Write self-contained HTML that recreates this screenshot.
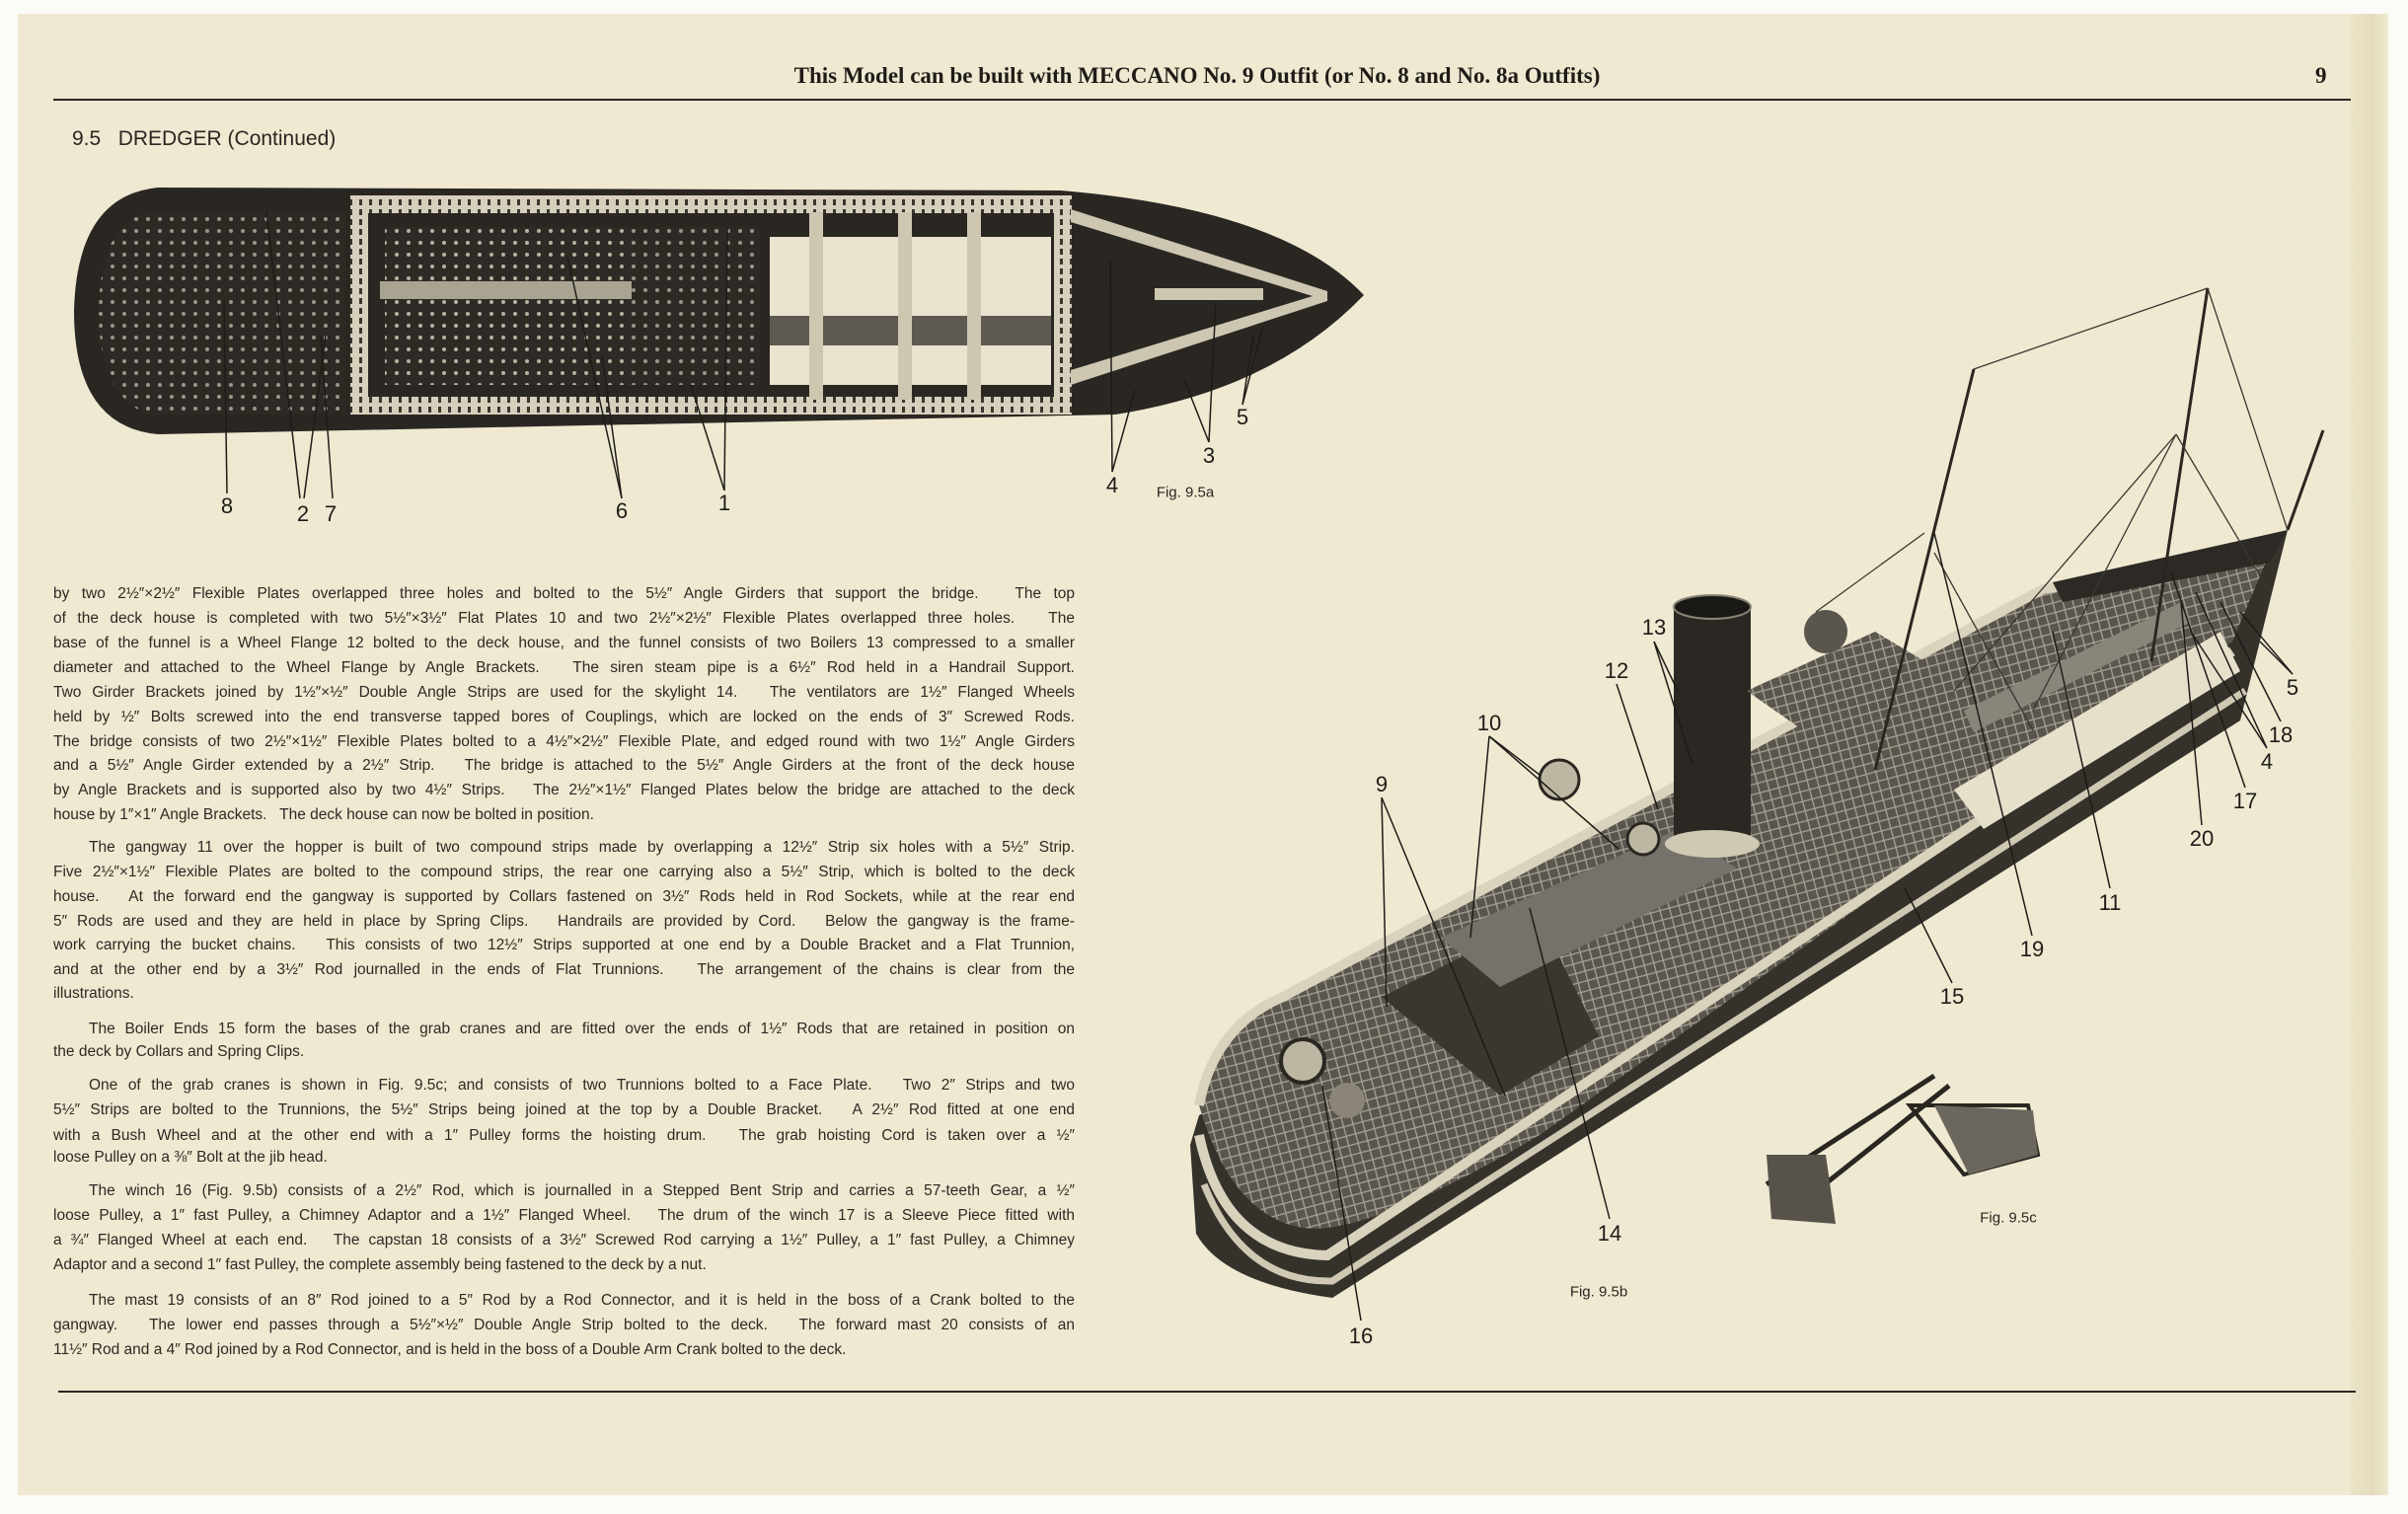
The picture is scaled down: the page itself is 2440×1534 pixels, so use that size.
<!DOCTYPE html>
<html><head><meta charset="utf-8">
<style>
html,body{margin:0;padding:0;background:#fbfbf8;}
body{width:2440px;height:1534px;position:relative;overflow:hidden;font-family:"Liberation Sans",sans-serif;}
#page{position:absolute;left:18px;top:14px;width:2402px;height:1501px;background:#efe9d2;}
.ln{position:absolute;left:54px;width:1035px;font-size:15.5px;line-height:24px;height:24px;color:#2d2922;text-align:justify;text-align-last:justify;white-space:nowrap;overflow:visible;word-spacing:0px;}
.ln.l{text-align-last:left;}
.ln.i{left:90px;width:999px;}
.lab{position:absolute;font-size:22px;color:#1e1c18;transform:translate(-50%,-50%);}
.fig{position:absolute;font-size:15px;color:#2a2620;transform:translate(-50%,-50%);}
</style></head><body>
<div id="page"></div>
<div style="position:absolute;left:2381px;top:14px;width:39px;height:1501px;background:linear-gradient(90deg,#ebe4c8,#e4dcbd 60%,#efe9cf);"></div>
<div style="position:absolute;left:713px;top:64px;width:1000px;text-align:center;font-size:23px;font-weight:bold;font-family:'Liberation Serif',serif;color:#1f1c17;">This Model can be built with MECCANO No. 9 Outfit (or No. 8 and No. 8a Outfits)</div>
<div style="position:absolute;left:2346px;top:64px;font-size:23px;font-weight:bold;font-family:'Liberation Serif',serif;color:#1f1c17;">9</div>
<div style="position:absolute;left:54px;top:100px;width:2328px;height:2px;background:#2a2722;"></div>
<div style="position:absolute;left:73px;top:129px;font-size:21px;color:#2a2620;">9.5&nbsp;&nbsp;&nbsp;DREDGER (Continued)</div>
<div style="position:absolute;left:59px;top:1409px;width:2328px;height:2px;background:#2a2722;"></div>

<svg width="2440" height="1534" style="position:absolute;left:0;top:0" xmlns="http://www.w3.org/2000/svg">
<defs>
<pattern id="hatch" width="14" height="14" patternUnits="userSpaceOnUse" patternTransform="rotate(30)">
<rect width="14" height="14" fill="#5a564e"/>
<path d="M0 0L14 14M14 0L0 14" stroke="#a9a395" stroke-width="1.3"/>
</pattern>
<pattern id="holes" width="12" height="12" patternUnits="userSpaceOnUse">
<rect width="12" height="12" fill="#2e2b27"/>
<circle cx="6" cy="6" r="2" fill="#b8b19f"/>
</pattern>
<pattern id="strip" width="10" height="10" patternUnits="userSpaceOnUse">
<rect width="10" height="10" fill="#d6cfbb"/>
<rect x="4" y="2" width="3" height="6" fill="#3a362f"/>
</pattern>
</defs>
<path d="M160 190 L1075 193 Q1300 212 1382 299 Q1290 395 1130 420 L160 440 Q75 432 75 315 Q78 198 160 190 Z" fill="#2a2723"/>
<path d="M150 215 L350 213 L350 420 L150 420 Q100 400 100 315 Q102 225 150 215Z" fill="url(#holes)" opacity="0.8"/>
<rect x="355" y="198" width="730" height="18" fill="url(#strip)"/>
<rect x="355" y="402" width="730" height="18" fill="url(#strip)"/>
<rect x="355" y="198" width="18" height="222" fill="url(#strip)"/>
<rect x="1068" y="198" width="18" height="222" fill="url(#strip)"/>
<rect x="390" y="230" width="250" height="160" fill="url(#holes)"/>
<rect x="640" y="230" width="130" height="160" fill="url(#holes)" opacity="0.8"/>
<rect x="385" y="285" width="255" height="18" fill="#a9a391"/>
<rect x="780" y="240" width="285" height="150" fill="#e9e3cf"/>
<rect x="780" y="320" width="285" height="30" fill="#5e5a51"/>
<rect x="820" y="215" width="14" height="190" fill="#cdc6b1"/>
<rect x="910" y="215" width="14" height="190" fill="#cdc6b1"/>
<rect x="980" y="215" width="14" height="190" fill="#cdc6b1"/>
<path d="M1085 225 L1330 300 L1085 375 L1085 390 L1345 305 L1345 295 L1085 212Z" fill="#cdc6b1"/>
<rect x="1170" y="292" width="110" height="12" fill="#cdc6b1"/>
<g stroke="#1e1c18" stroke-width="1.5" fill="none">
<path d="M230 500 L227 305"/><path d="M304 505 L270 215"/><path d="M308 505 L330 340"/><path d="M337 505 L325 340"/>
<path d="M630 505 L575 260"/><path d="M630 505 L610 360"/><path d="M734 497 L700 390"/><path d="M734 497 L737 230"/>
<path d="M1127 478 L1125 265"/><path d="M1127 478 L1150 395"/><path d="M1225 448 L1200 385"/><path d="M1225 448 L1232 305"/>
<path d="M1259 410 L1270 340"/><path d="M1259 410 L1280 330"/>
</g>
<path d="M1206 1160 L1212 1250 Q1240 1300 1350 1315 L2270 730 L2318 537 L2290 560 L1215 1130Z" fill="#35322c"/>
<path d="M1215 1120 Q1230 1040 1300 1010 L2070 597 L2300 560 L2262 650 L1560 1150 Q1400 1245 1330 1245 Q1250 1240 1215 1120Z" fill="url(#hatch)"/>
<path d="M1215 1120 Q1230 1040 1300 1010 L2070 597 L2300 560" fill="none" stroke="#d9d2bd" stroke-width="10"/>
<path d="M1215 1150 Q1240 1270 1345 1272 L2262 660" fill="none" stroke="#d9d2bd" stroke-width="10"/>
<path d="M1220 1200 Q1260 1300 1350 1298 L2275 700" fill="none" stroke="#cfc8b2" stroke-width="7"/>
<path d="M2080 590 L2318 537 L2300 570 L2090 610Z" fill="#2d2a25"/>
<path d="M1400 1010 L1560 930 L1620 1050 L1520 1110 Z" fill="#3a372f"/>
<path d="M1460 950 L1700 840 L1760 880 L1520 1000Z" fill="#76716a"/>
<rect x="1696" y="615" width="78" height="240" fill="#2b2824"/>
<ellipse cx="1735" cy="615" rx="39" ry="12" fill="#1a1815" stroke="#8a8474" stroke-width="2"/>
<ellipse cx="1735" cy="855" rx="48" ry="14" fill="#cfc8b2"/>
<path d="M1770 700 L1900 640 L2000 700 L1870 770Z" fill="url(#hatch)"/>
<path d="M1980 800 L2250 640 L2270 680 L2010 840Z" fill="#e6dfca"/>
<path d="M1990 720 L2210 610 L2220 630 L2000 742Z" fill="#8a857a"/>
<g stroke="#2a2722" stroke-width="3" fill="none">
<path d="M2000 374 L1900 780"/><path d="M2237 292 L2180 670"/><path d="M2354 436 L2318 537"/>
</g>
<g stroke="#3a362f" stroke-width="1.3" fill="none">
<path d="M2000 374 L2237 292"/><path d="M2237 292 L2318 537"/><path d="M1950 540 L1840 620"/>
<path d="M2205 440 L1980 700"/><path d="M2205 440 L2060 720"/><path d="M2205 440 L2300 600"/>
<path d="M1960 560 L2060 740"/>
</g>
<circle cx="1850" cy="640" r="22" fill="#5a564e"/>
<circle cx="1580" cy="790" r="20" fill="#bdb6a2" stroke="#2a2722" stroke-width="3"/>
<circle cx="1665" cy="850" r="16" fill="#bdb6a2" stroke="#2a2722" stroke-width="3"/>
<circle cx="1320" cy="1075" r="22" fill="#bdb6a2" stroke="#2a2722" stroke-width="4"/>
<circle cx="1365" cy="1115" r="18" fill="#8a8578"/>
<g stroke="#2a2722" stroke-width="5" fill="none">
<path d="M1790 1200 L1960 1090"/><path d="M1830 1215 L1975 1100"/>
<path d="M1935 1120 L2055 1120 L2065 1170 L1990 1190Z" stroke-width="4"/>
</g>
<path d="M1790 1170 L1850 1170 L1860 1240 L1795 1235Z" fill="#57534a"/>
<path d="M1960 1120 L2060 1125 L2065 1170 L1995 1190Z" fill="#6c675e"/>
<g stroke="#1e1c18" stroke-width="1.5" fill="none">
<path d="M1676 650 L1700 700"/><path d="M1676 650 L1715 775"/><path d="M1638 693 L1680 820"/>
<path d="M1509 746 L1490 950"/><path d="M1509 746 L1560 785"/><path d="M1509 746 L1640 860"/>
<path d="M1400 808 L1405 1020"/><path d="M1400 808 L1525 1110"/><path d="M1631 1235 L1550 920"/>
<path d="M1379 1338 L1340 1100"/><path d="M1978 996 L1930 900"/><path d="M2059 948 L1960 540"/>
<path d="M2138 900 L2080 640"/><path d="M2231 836 L2210 610"/><path d="M2275 798 L2200 580"/>
<path d="M2297 758 L2225 600"/><path d="M2297 758 L2220 640"/><path d="M2311 731 L2250 610"/><path d="M2323 683 L2270 620"/><path d="M2323 683 L2290 650"/>
</g>
</svg>

<div class="lab" style="left:230px;top:513px">8</div>
<div class="lab" style="left:307px;top:521px">2</div>
<div class="lab" style="left:335px;top:521px">7</div>
<div class="lab" style="left:630px;top:518px">6</div>
<div class="lab" style="left:734px;top:510px">1</div>
<div class="lab" style="left:1127px;top:492px">4</div>
<div class="lab" style="left:1225px;top:462px">3</div>
<div class="lab" style="left:1259px;top:423px">5</div>
<div class="fig" style="left:1201px;top:499px">Fig. 9.5a</div>

<div class="lab" style="left:1676px;top:636px">13</div>
<div class="lab" style="left:1638px;top:680px">12</div>
<div class="lab" style="left:1509px;top:733px">10</div>
<div class="lab" style="left:1400px;top:795px">9</div>
<div class="lab" style="left:1631px;top:1250px">14</div>
<div class="lab" style="left:1379px;top:1354px">16</div>
<div class="lab" style="left:1978px;top:1010px">15</div>
<div class="lab" style="left:2059px;top:962px">19</div>
<div class="lab" style="left:2138px;top:915px">11</div>
<div class="lab" style="left:2231px;top:850px">20</div>
<div class="lab" style="left:2275px;top:812px">17</div>
<div class="lab" style="left:2297px;top:772px">4</div>
<div class="lab" style="left:2311px;top:745px">18</div>
<div class="lab" style="left:2323px;top:697px">5</div>
<div class="fig" style="left:1620px;top:1309px">Fig. 9.5b</div>
<div class="fig" style="left:2035px;top:1234px">Fig. 9.5c</div>

<div class="ln" style="top:590px">by two 2½″×2½″ Flexible Plates overlapped three holes and bolted to the 5½″ Angle Girders that support the bridge.&nbsp;&nbsp; The top</div>
<div class="ln" style="top:615px">of the deck house is completed with two 5½″×3½″ Flat Plates 10 and two 2½″×2½″ Flexible Plates overlapped three holes.&nbsp;&nbsp; The</div>
<div class="ln" style="top:640px">base of the funnel is a Wheel Flange 12 bolted to the deck house, and the funnel consists of two Boilers 13 compressed to a smaller</div>
<div class="ln" style="top:665px">diameter and attached to the Wheel Flange by Angle Brackets.&nbsp;&nbsp; The siren steam pipe is a 6½″ Rod held in a Handrail Support.</div>
<div class="ln" style="top:690px">Two Girder Brackets joined by 1½″×½″ Double Angle Strips are used for the skylight 14.&nbsp;&nbsp; The ventilators are 1½″ Flanged Wheels</div>
<div class="ln" style="top:715px">held by ½″ Bolts screwed into the end transverse tapped bores of Couplings, which are locked on the ends of 3″ Screwed Rods.</div>
<div class="ln" style="top:740px">The bridge consists of two 2½″×1½″ Flexible Plates bolted to a 4½″×2½″ Flexible Plate, and edged round with two 1½″ Angle Girders</div>
<div class="ln" style="top:764px">and a 5½″ Angle Girder extended by a 2½″ Strip.&nbsp;&nbsp; The bridge is attached to the 5½″ Angle Girders at the front of the deck house</div>
<div class="ln" style="top:789px">by Angle Brackets and is supported also by two 4½″ Strips.&nbsp;&nbsp; The 2½″×1½″ Flanged Plates below the bridge are attached to the deck</div>
<div class="ln l" style="top:814px">house by 1″×1″ Angle Brackets.&nbsp;&nbsp; The deck house can now be bolted in position.</div>

<div class="ln i" style="top:847px">The gangway 11 over the hopper is built of two compound strips made by overlapping a 12½″ Strip six holes with a 5½″ Strip.</div>
<div class="ln" style="top:872px">Five 2½″×1½″ Flexible Plates are bolted to the compound strips, the rear one carrying also a 5½″ Strip, which is bolted to the deck</div>
<div class="ln" style="top:897px">house.&nbsp;&nbsp; At the forward end the gangway is supported by Collars fastened on 3½″ Rods held in Rod Sockets, while at the rear end</div>
<div class="ln" style="top:922px">5″ Rods are used and they are held in place by Spring Clips.&nbsp;&nbsp; Handrails are provided by Cord.&nbsp;&nbsp; Below the gangway is the frame-</div>
<div class="ln" style="top:946px">work carrying the bucket chains.&nbsp;&nbsp; This consists of two 12½″ Strips supported at one end by a Double Bracket and a Flat Trunnion,</div>
<div class="ln" style="top:971px">and at the other end by a 3½″ Rod journalled in the ends of Flat Trunnions.&nbsp;&nbsp; The arrangement of the chains is clear from the</div>
<div class="ln l" style="top:995px">illustrations.</div>

<div class="ln i" style="top:1031px">The Boiler Ends 15 form the bases of the grab cranes and are fitted over the ends of 1½″ Rods that are retained in position on</div>
<div class="ln l" style="top:1054px">the deck by Collars and Spring Clips.</div>

<div class="ln i" style="top:1088px">One of the grab cranes is shown in Fig. 9.5c; and consists of two Trunnions bolted to a Face Plate.&nbsp;&nbsp; Two 2″ Strips and two</div>
<div class="ln" style="top:1113px">5½″ Strips are bolted to the Trunnions, the 5½″ Strips being joined at the top by a Double Bracket.&nbsp;&nbsp; A 2½″ Rod fitted at one end</div>
<div class="ln" style="top:1139px">with a Bush Wheel and at the other end with a 1″ Pulley forms the hoisting drum.&nbsp;&nbsp; The grab hoisting Cord is taken over a ½″</div>
<div class="ln l" style="top:1161px">loose Pulley on a ⅜″ Bolt at the jib head.</div>

<div class="ln i" style="top:1195px">The winch 16 (Fig. 9.5b) consists of a 2½″ Rod, which is journalled in a Stepped Bent Strip and carries a 57-teeth Gear, a ½″</div>
<div class="ln" style="top:1220px">loose Pulley, a 1″ fast Pulley, a Chimney Adaptor and a 1½″ Flanged Wheel.&nbsp;&nbsp; The drum of the winch 17 is a Sleeve Piece fitted with</div>
<div class="ln" style="top:1245px">a ¾″ Flanged Wheel at each end.&nbsp;&nbsp; The capstan 18 consists of a 3½″ Screwed Rod carrying a 1½″ Pulley, a 1″ fast Pulley, a Chimney</div>
<div class="ln l" style="top:1270px">Adaptor and a second 1″ fast Pulley, the complete assembly being fastened to the deck by a nut.</div>

<div class="ln i" style="top:1306px">The mast 19 consists of an 8″ Rod joined to a 5″ Rod by a Rod Connector, and it is held in the boss of a Crank bolted to the</div>
<div class="ln" style="top:1331px">gangway.&nbsp;&nbsp; The lower end passes through a 5½″×½″ Double Angle Strip bolted to the deck.&nbsp;&nbsp; The forward mast 20 consists of an</div>
<div class="ln l" style="top:1356px">11½″ Rod and a 4″ Rod joined by a Rod Connector, and is held in the boss of a Double Arm Crank bolted to the deck.</div>
</body></html>
